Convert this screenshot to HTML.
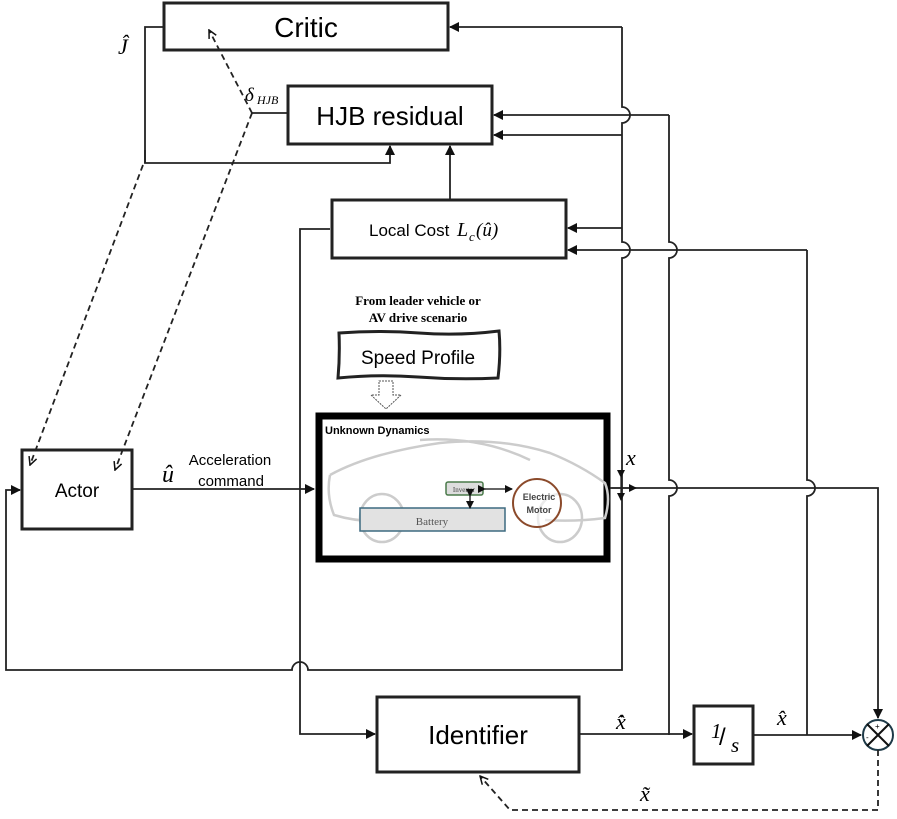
<!DOCTYPE html>
<html><head><meta charset="utf-8"><style>
body{margin:0;background:#fff}
svg{display:block}
text{font-family:"Liberation Sans",sans-serif}
.m{font-family:"Liberation Serif",serif;font-style:italic}
</style></head><body>
<svg width="897" height="819" viewBox="0 0 897 819" xmlns="http://www.w3.org/2000/svg">
<defs>
<marker id="a" markerWidth="10" markerHeight="10" refX="9" refY="5" orient="auto" markerUnits="userSpaceOnUse"><path d="M0,0 L10,5 L0,10 z" fill="#111"/></marker>
<marker id="s" markerWidth="8" markerHeight="8" refX="7" refY="4" orient="auto" markerUnits="userSpaceOnUse"><path d="M0,0 L8,4 L0,8 z" fill="#111"/></marker>
<marker id="o" markerWidth="10" markerHeight="10" refX="9" refY="5" orient="auto" markerUnits="userSpaceOnUse"><path d="M1,1 L9,5 L1,9" fill="none" stroke="#111" stroke-width="1.5"/></marker>
</defs>
<g fill="none" stroke="#222" stroke-width="2">
<rect x="164" y="3" width="284" height="47" stroke-width="3"/>
<rect x="288" y="86" width="204" height="58" stroke-width="3"/>
<rect x="332" y="200" width="234" height="58" stroke-width="3"/>
<rect x="22" y="450" width="110" height="79" stroke-width="3"/>
<rect x="377" y="697" width="202" height="75" stroke-width="3"/>
<rect x="694" y="706" width="59" height="58" stroke-width="3"/>
<path d="M339,333 q40,-3 80,0 t80,-2 q2,22 -1,47 q-40,2 -80,-1 t-80,1 q2,-22 1,-45z" stroke-width="3"/>
<rect x="319" y="416" width="288" height="143" stroke="#000" stroke-width="7"/>
</g>
<g fill="none" stroke="#ccc" stroke-width="2.5">
<path d="M330,475 q40,-22 110,-32 q60,-6 110,10 q30,12 55,30 q6,15 0,35 q-30,4 -60,2 M330,475 q-4,20 4,40 q20,6 40,6 M420,440 q60,-4 110,20"/>
<ellipse cx="382" cy="518" rx="22" ry="24"/>
<ellipse cx="560" cy="518" rx="22" ry="24"/>
</g>
<rect x="360" y="508" width="145" height="23" fill="#e2e2e2" stroke="#3d6a80" stroke-width="1.5"/>
<text x="432" y="525" font-size="11" fill="#555" text-anchor="middle" style="font-family:'Liberation Serif'">Battery</text>
<rect x="446" y="482" width="37" height="13" rx="2" fill="#ddd" stroke="#4a7a4a" stroke-width="1.5"/>
<text x="464" y="492" font-size="7" fill="#444" text-anchor="middle" style="font-family:'Liberation Serif'">Inverter</text>
<circle cx="537" cy="503" r="24" fill="#fff" fill-opacity="0.6" stroke="#8b4a2b" stroke-width="2"/>
<text x="539" y="500" font-size="9" font-weight="bold" fill="#444" text-anchor="middle">Electric</text>
<text x="539" y="513" font-size="9" font-weight="bold" fill="#444" text-anchor="middle">Motor</text>
<g stroke="#333" stroke-width="1.5" fill="none">
<path d="M470,496 V508" marker-end="url(#s)" marker-start="url(#s)"/>
<path d="M485,489 H512" marker-end="url(#s)" marker-start="url(#s)"/>
</g>
<path d="M379,381 h14 v14 h8 l-15,14 l-15,-14 h8z" fill="#fff" stroke="#555" stroke-width="1" stroke-dasharray="2,1"/>
<text x="306" y="37" font-size="28" text-anchor="middle">Critic</text>
<text x="390" y="125" font-size="26" text-anchor="middle">HJB residual</text>
<text x="369" y="236" font-size="17">Local Cost</text>
<text x="457" y="236" font-size="20" class="m">L</text><text x="469" y="241" font-size="13" class="m">c</text><text x="476" y="236" font-size="19" class="m">(û)</text>
<text x="77" y="497" font-size="19" text-anchor="middle">Actor</text>
<text x="478" y="744" font-size="26" text-anchor="middle">Identifier</text>
<text x="711" y="738" font-size="21" class="m">1</text><text x="719" y="745" font-size="24">/</text><text x="731" y="752" font-size="21" class="m">s</text>
<text x="418" y="364" font-size="19" text-anchor="middle">Speed Profile</text>
<text x="418" y="305" font-size="13" font-weight="bold" text-anchor="middle" style="font-family:'Liberation Serif'">From leader vehicle or</text>
<text x="418" y="322" font-size="13" font-weight="bold" text-anchor="middle" style="font-family:'Liberation Serif'">AV drive scenario</text>
<text x="325" y="434" font-size="11" font-weight="bold">Unknown Dynamics</text>
<text x="230" y="465" font-size="15" text-anchor="middle">Acceleration</text>
<text x="231" y="486" font-size="15" text-anchor="middle">command</text>
<text x="162" y="482" font-size="24" class="m">û</text>
<text x="118" y="54" font-size="22" class="m">Ĵ</text>
<text x="245" y="101" font-size="19" class="m">δ</text><text x="257" y="104" font-size="12" class="m">HJB</text>
<text x="626" y="465" font-size="22" class="m">x</text>
<text x="616" y="729" font-size="22" class="m">x̂̇</text>
<text x="777" y="725" font-size="22" class="m">x̂</text>
<text x="640" y="801" font-size="22" class="m">x̃</text>
<g fill="none" stroke="#222" stroke-width="1.8">
<path d="M164,27 H145 V163" />
<path d="M145,150 V163 H390 V146" marker-end="url(#a)"/>
<path d="M450,200 V146" marker-end="url(#a)"/>
<path d="M288,113 H252"/>
<path d="M622,27 H450" marker-end="url(#a)"/>
<path d="M622,27 V107 a8,8 0 0 1 0,16 V242 a8,8 0 0 1 0,16 V670 H308 a8,8 0 0 0 -16,0 H6 V490 H20" marker-end="url(#a)"/>
<path d="M622,135 H494" marker-end="url(#a)"/>
<path d="M622,228 H568" marker-end="url(#a)"/>
<path d="M669,115 H494" marker-end="url(#a)"/>
<path d="M669,115 V242 a8,8 0 0 1 0,16 V480 a8,8 0 0 1 0,16 V735"/>
<path d="M807,250 H568" marker-end="url(#a)"/>
<path d="M807,250 V480 a8,8 0 0 1 0,16 V735"/>
<path d="M610,488 H878 V718" marker-end="url(#a)"/>
<path d="M621,477 V500" marker-end="url(#s)" marker-start="url(#s)" stroke-width="1.3"/>
<path d="M612,488 H636" marker-end="url(#s)" stroke-width="1.3"/>
<path d="M132,489 H314" marker-end="url(#a)"/>
<path d="M330,229 H300 V734 H375" marker-end="url(#a)"/>
<path d="M579,734 H692" marker-end="url(#a)"/>
<path d="M753,735 H861" marker-end="url(#a)"/>
</g>
<circle cx="878" cy="735" r="15" fill="#fff" stroke="#1e3a48" stroke-width="2"/>
<path d="M867,724 L889,746 M889,724 L867,746" stroke="#111" stroke-width="2"/>
<text x="875" y="729" font-size="8">+</text><text x="866" y="740" font-size="8">-</text>
<g fill="none" stroke="#222" stroke-width="1.8" stroke-dasharray="6,4">
<path d="M252,113 L209,30" marker-end="url(#o)"/>
<path d="M143,165 L30,465" marker-end="url(#o)"/>
<path d="M252,113 L115,470" marker-end="url(#o)"/>
<path d="M878,750 V810 H510 L480,776" marker-end="url(#o)"/>
</g>
</svg>
</body></html>
